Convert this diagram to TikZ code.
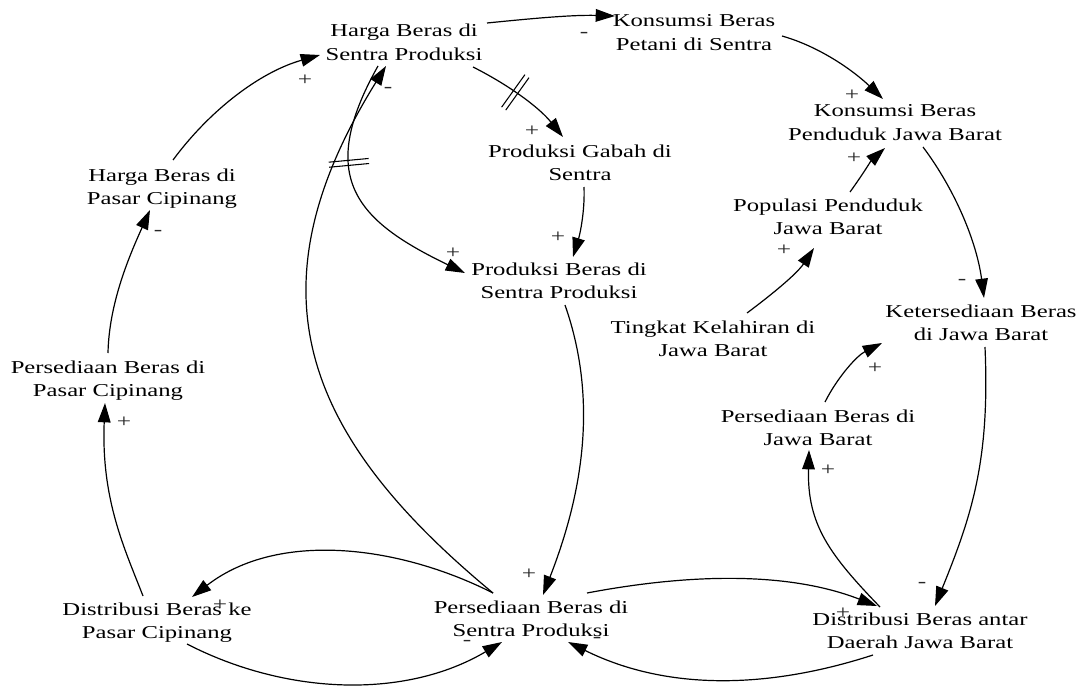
\documentclass[tikz,border=0pt]{standalone}
\usepackage{fontspec}
\setmainfont{Liberation Serif}[FakeStretch=1.36]
\usetikzlibrary{arrows.meta,calc,decorations.markings}
\newcommand{\twol}[2]{\begin{tabular}[t]{@{}c@{}}#1\\#2\end{tabular}}
\begin{document}
\begin{tikzpicture}[x=0.75pt,y=-0.75pt,
  var/.style={anchor=base,inner sep=0pt,font=\fontsize{13.6pt}{17.8pt}\selectfont},
  lnk/.style={line width=0.9pt,-{Triangle[length=14.5pt,width=9.5pt]}},
  pol/.style={inner sep=0pt,font=\fontsize{14pt}{15pt}\selectfont,text=black!85},
  delay/.style={postaction={decorate,decoration={markings,mark=at position #1 with {\draw[-,line width=0.8pt] (-1.9pt,-15pt)--(-1.9pt,15pt) (1.9pt,-15pt)--(1.9pt,15pt);}}}}
]
\path[use as bounding box,fill=white] (0,0) rectangle (1081,688);

% variables
\node[var] (HS) at (404,37)  {\twol{Harga Beras di}{Sentra Produksi}};
\node[var] (KP) at (694,27)  {\twol{Konsumsi Beras}{Petani di Sentra}};
\node[var] (KJ) at (895,117) {\twol{Konsumsi Beras}{Penduduk Jawa Barat}};
\node[var] (PG) at (580,157) {\twol{Produksi Gabah di}{Sentra}};
\node[var] (HC) at (162,181) {\twol{Harga Beras di}{Pasar Cipinang}};
\node[var] (PP) at (828,211) {\twol{Populasi Penduduk}{Jawa Barat}};
\node[var] (PB) at (559,275) {\twol{Produksi Beras di}{Sentra Produksi}};
\node[var] (TK) at (713,333) {\twol{Tingkat Kelahiran di}{Jawa Barat}};
\node[var] (KT) at (981,317) {\twol{Ketersediaan Beras}{di Jawa Barat}};
\node[var] (PC) at (108,373) {\twol{Persediaan Beras di}{Pasar Cipinang}};
\node[var] (PJ) at (818,422) {\twol{Persediaan Beras di}{Jawa Barat}};
\node[var] (DC) at (157,615) {\twol{Distribusi Beras ke}{Pasar Cipinang}};
\node[var] (PS) at (531,613) {\twol{Persediaan Beras di}{Sentra Produksi}};
\node[var] (DJ) at (920,625) {\twol{Distribusi Beras antar}{Daerah Jawa Barat}};

% links
\draw[lnk] ($(HS.base)+(83,-14)$) .. controls (530,18.7) and (572,14.7) .. ($(KP.base)+(-79,-11)$);
\draw[lnk] ($(KP.base)+(88,9)$) .. controls (820.5,46.9) and (854.2,71.4) .. ($(KJ.base)+(-12,-18)$);
\draw[lnk] ($(PP.base)+(22,-19)$) .. controls (860.6,177.4) and (871.7,160) .. ($(KJ.base)+(-10,31)$);
\draw[lnk] ($(KJ.base)+(28,30)$) .. controls (956,191) and (977,243.5) .. ($(KT.base)+(3,-19)$);
\draw[lnk] ($(TK.base)+(34,-20)$) .. controls (772,294.4) and (797,273.7) .. ($(PP.base)+(-14,37)$);
\draw[lnk] ($(PJ.base)+(7,-20)$) .. controls (837.6,377) and (857,355.6) .. ($(KT.base)+(-99,26)$);
\draw[lnk] ($(KT.base)+(4,30)$) .. controls (990,460) and (972,515) .. ($(DJ.base)+(15,-19)$);
\draw[lnk] ($(DJ.base)+(-40,-18)$) .. controls (830,555) and (807,525) .. ($(PJ.base)+(-9,28)$);
\draw[lnk] ($(PS.base)+(56,-20)$) .. controls (684,574.6) and (785,570.3) .. ($(DJ.base)+(-43,-19)$);
\draw[lnk] ($(DJ.base)+(-47,30)$) .. controls (765,690) and (665,690) .. ($(PS.base)+(37,29)$);
\draw[lnk] ($(PB.base)+(6,30)$) .. controls (600,405) and (580,500) .. ($(PS.base)+(12,-18)$);
\draw[lnk] ($(PG.base)+(4,30)$) .. controls (585,211) and (580,234) .. ($(PB.base)+(14,-18)$);
\draw[lnk,delay=0.43] ($(HS.base)+(69,30)$) .. controls (507.7,84.5) and (538.4,106.6) .. ($(PG.base)+(-17,-20)$);
\draw[lnk,delay=0.38] ($(HS.base)+(-26,29)$) .. controls (315,178) and (357,221) .. ($(PB.base)+(-94,-2)$);
\draw[lnk] ($(PS.base)+(-38,-20)$) .. controls (302,435) and (247,290) .. ($(HS.base)+(-18,29)$);
\draw[lnk] ($(HC.base)+(11,-21)$) .. controls (210,110) and (260,72) .. ($(HS.base)+(-84,18)$);
\draw[lnk] ($(PC.base)+(0,-20)$) .. controls (109,303) and (129.5,255.5) .. ($(HC.base)+(-12,29)$);
\draw[lnk] ($(DC.base)+(-14,-19)$) .. controls (125,549.5) and (101,500) .. ($(PC.base)+(-3,30)$);
\draw[lnk] ($(PS.base)+(-38,-20)$) .. controls (397,544.4) and (277,531) .. ($(DC.base)+(35,-18)$);
\draw[lnk] ($(DC.base)+(30,29)$) .. controls (287,695.5) and (406,699) .. ($(PS.base)+(-29,29)$);

% polarities
\node[pol] (p1)  at (305,80)  {+};
\node[pol] (p2)  at (584,35)  {-};
\node[pol] (p3)  at (388,90)  {-};
\node[pol] (p4)  at (532,131) {+};
\node[pol] (p5)  at (852,95)  {+};
\node[pol] (p6)  at (854,158) {+};
\node[pol] (p7)  at (158,233) {-};
\node[pol] (p8)  at (453,253) {+};
\node[pol] (p9)  at (558,237) {+};
\node[pol] (p10) at (784,250) {+};
\node[pol] (p11) at (962,282) {-};
\node[pol] (p12) at (875,368) {+};
\node[pol] (p13) at (124,422) {+};
\node[pol] (p14) at (828,470) {+};
\node[pol] (p15) at (529,574) {+};
\node[pol] (p16) at (220,605) {+};
\node[pol] (p17) at (467,643) {-};
\node[pol] (p18) at (597,640) {-};
\node[pol] (p19) at (843,613) {+};
\node[pol] (p20) at (922,585) {-};
\end{tikzpicture}
\end{document}
